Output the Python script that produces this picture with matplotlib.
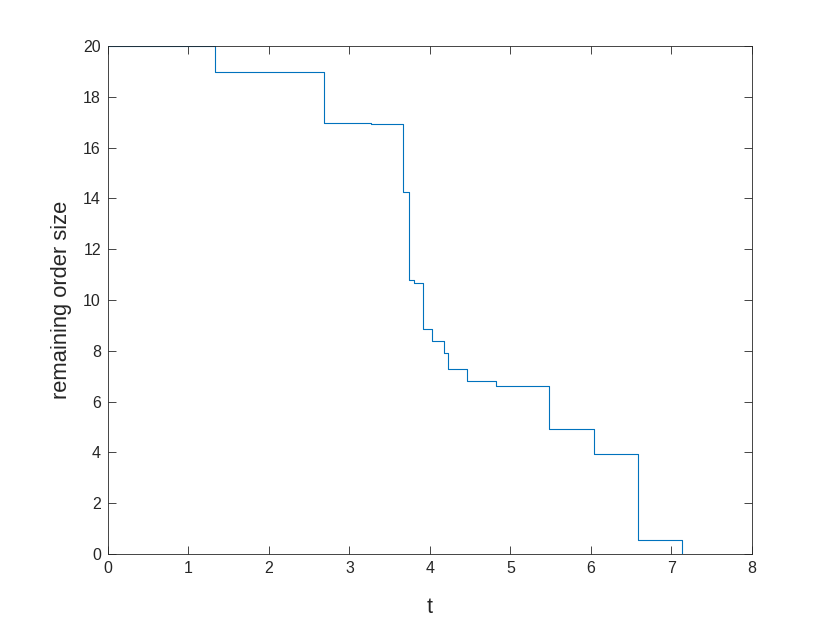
import matplotlib
matplotlib.use("Agg")
import matplotlib.pyplot as plt

# step change times and remaining order size after each change
times = [0, 1.33, 2.68, 3.27, 3.66, 3.74, 3.80, 3.92, 4.02, 4.17, 4.23, 4.46, 4.82, 5.48, 6.04, 6.58, 7.13]
values = [20, 18.98, 16.98, 16.93, 14.25, 10.78, 10.68, 8.86, 8.37, 7.90, 7.27, 6.80, 6.63, 4.93, 3.94, 0.54, 0]
xticks = [0, 1, 2, 3, 4, 5, 6, 7, 8]
yticks = [0, 2, 4, 6, 8, 10, 12, 14, 16, 18, 20]

plt.rcParams['font.family'] = ['Liberation Sans', 'DejaVu Sans']

fig = plt.figure(figsize=(8.3, 6.25), dpi=100)
ax = fig.add_axes([0.13, 0.1136, 0.776, 0.8128])
ax.step(times, values, where='post', color='#0072BD', lw=0.8)
ax.set_xlim(0, 8)
ax.set_ylim(0, 20)
ax.set_xticks(xticks)
ax.set_yticks(yticks)
ax.tick_params(direction='in', top=True, right=True, length=6, width=0.6,
               color='#262626', labelcolor='#262626', labelsize=11.5, pad=5)
for s in ax.spines.values():
    s.set_color('#262626')
    s.set_linewidth(0.6)
ax.set_xlabel('t', fontsize=15.5, color='#262626', labelpad=15)
ax.set_ylabel('remaining order size', fontsize=15.8, color='#262626', labelpad=8)
fig.savefig('out.png', dpi=100)
